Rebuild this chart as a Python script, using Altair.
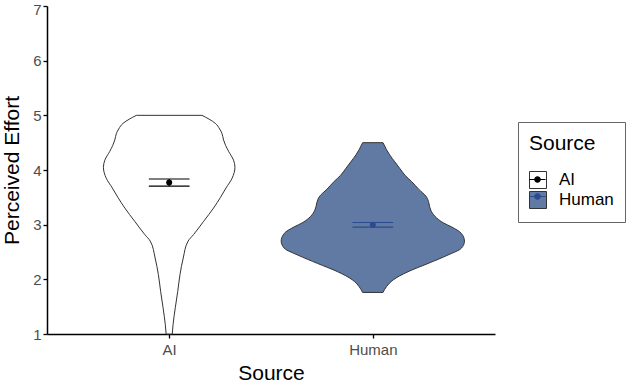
import altair as alt
import pandas as pd

# ---- data ----
sources = ["AI", "Human"]
centers = [1, 2]
y_ticks = [1, 2, 3, 4, 5, 6, 7]

# violin outline: effort value and half-width (in category units)
ai_effort = [5.00, 4.93, 4.855, 4.75, 4.67, 4.55, 4.45, 4.34, 4.18, 4.05, 3.95, 3.85,
             3.67, 3.50, 3.305, 3.06, 2.82, 2.70, 2.39, 2.085, 1.78, 1.48, 1.17, 1.00]
ai_halfwidth = [0.161, 0.196, 0.226, 0.248, 0.259, 0.267, 0.277, 0.292, 0.316, 0.323, 0.319, 0.309,
                0.279, 0.252, 0.218, 0.169, 0.120, 0.093, 0.069, 0.053, 0.042, 0.030, 0.019, 0.015]

human_effort = [4.50, 4.38, 4.275, 4.15, 4.03, 3.90, 3.79, 3.65, 3.51, 3.40, 3.33, 3.24,
                3.12, 3.03, 2.96, 2.84, 2.70, 2.57, 2.445, 2.29, 2.14, 1.99, 1.865, 1.76]
human_halfwidth = [0.050, 0.066, 0.083, 0.108, 0.132, 0.159, 0.190, 0.225, 0.263, 0.275, 0.279, 0.288,
                   0.314, 0.348, 0.386, 0.435, 0.450, 0.435, 0.369, 0.271, 0.173, 0.100, 0.067, 0.050]

means = [3.77, 3.00]
se_low = [3.705, 2.955]
se_high = [3.835, 3.04]
cap_half = 0.1

fill_colors = ["#ffffff", "#607aa4"]
dot_colors = ["#000000", "#2a4b8d"]

# ---- tables ----
rows = []
for src, c, ev, hw in [(sources[0], centers[0], ai_effort, ai_halfwidth),
                       (sources[1], centers[1], human_effort, human_halfwidth)]:
    for e, w in zip(ev, hw):
        rows.append({"Source": src, "effort": e, "lo": c - w, "hi": c + w})
vdf = pd.DataFrame(rows).sort_values(["Source", "effort"]).reset_index(drop=True)

mdf = pd.DataFrame({"Source": sources, "center": centers, "mean": means,
                    "low": se_low, "high": se_high})
mdf["cap_l"] = mdf["center"] - cap_half
mdf["cap_r"] = mdf["center"] + cap_half

FONT = "Liberation Sans"

x_scale = alt.Scale(domain=[0.4, 2.6], nice=False, zero=False)
y_scale = alt.Scale(domain=[1, 7], nice=False, zero=False)
x_axis = alt.Axis(values=centers, title="Source",
                  labelExpr="['AI','Human'][datum.value - 1]",
                  grid=False, labelFontSize=15, labelColor="#4d4d4d", labelPadding=4,
                  tickSize=4, tickColor="#000000", tickWidth=1.3,
                  domainColor="#000000", domainWidth=1.5,
                  titleFontSize=21, titleFontWeight="normal", titleColor="#000000",
                  titlePadding=5, labelFont=FONT, titleFont=FONT)
y_axis = alt.Axis(values=y_ticks, title="Perceived Effort", grid=False,
                  labelFontSize=15, labelColor="#4d4d4d", labelPadding=2,
                  labelOffset={"condition": {"test": "datum.value == 7", "value": 3}, "value": 0},
                  tickSize=4, tickColor="#000000", tickWidth=1.3,
                  domainColor="#000000", domainWidth=1.5,
                  titleFontSize=21, titleFontWeight="normal", titleColor="#000000",
                  titlePadding=10, labelFont=FONT, titleFont=FONT)

legend_common = dict(orient="none", legendX=471, legendY=116, padding=11,
                     titleFontSize=21, titleFontWeight="normal", titleFont=FONT,
                     labelFontSize=17, labelFont=FONT, symbolSize=289, rowPadding=-3,
                     titlePadding=17, labelOffset=12)

fill_legend = alt.Legend(title="Source", symbolType="square", symbolStrokeColor="#333333",
                         symbolStrokeWidth=1, strokeColor="#666666", titleColor="#000000",
                         labelColor="#000000", zindex=1, **legend_common)
dot_path = ("M-0.95,-0.06H0.95V0.06H-0.95Z "
            "M0.39,0A0.39,0.39 0 1,1 -0.39,0A0.39,0.39 0 1,1 0.39,0Z")
dot_legend = alt.Legend(title=" ", symbolType=dot_path, symbolStrokeWidth=0,
                        labelExpr="''", zindex=2, **legend_common)

violin = alt.Chart(vdf).mark_area(
    orient="horizontal", interpolate="monotone", stroke="#333333", strokeWidth=1, opacity=1
).encode(
    y=alt.Y("effort:Q", scale=y_scale, axis=y_axis),
    x=alt.X("lo:Q", scale=x_scale, axis=x_axis),
    x2="hi:Q",
    fill=alt.Fill("Source:N", scale=alt.Scale(domain=sources, range=fill_colors), legend=fill_legend),
)

stroke_enc = alt.Stroke("Source:N", scale=alt.Scale(domain=sources, range=dot_colors), legend=None)
base = alt.Chart(mdf)
vline = base.mark_rule(strokeWidth=1.2).encode(
    x=alt.X("center:Q", scale=x_scale, axis=x_axis),
    y=alt.Y("low:Q", scale=y_scale, axis=y_axis), y2="high:Q", stroke=stroke_enc)
cap_top = base.mark_rule(strokeWidth=1.2).encode(
    x=alt.X("cap_l:Q", scale=x_scale, axis=x_axis), x2="cap_r:Q",
    y=alt.Y("high:Q", scale=y_scale, axis=y_axis), stroke=stroke_enc)
cap_bot = base.mark_rule(strokeWidth=1.2).encode(
    x=alt.X("cap_l:Q", scale=x_scale, axis=x_axis), x2="cap_r:Q",
    y=alt.Y("low:Q", scale=y_scale, axis=y_axis), stroke=stroke_enc)
points = base.mark_circle(size=36, opacity=1).encode(
    x=alt.X("center:Q", scale=x_scale, axis=x_axis),
    y=alt.Y("mean:Q", scale=y_scale, axis=y_axis),
    fill=alt.Fill("Source:N", scale=alt.Scale(domain=sources, range=dot_colors), legend=dot_legend),
)

chart = alt.layer(violin, vline, cap_top, cap_bot, points).resolve_scale(
    fill="independent"
).properties(
    width=448, height=328,
    autosize=alt.AutoSizeParams(type="none"),
    padding={"left": 47, "top": 6, "right": 138, "bottom": 50},
).configure(font=FONT).configure_view(stroke="transparent")

chart.save("out.html", embed_options={"renderer": "svg", "actions": False})
